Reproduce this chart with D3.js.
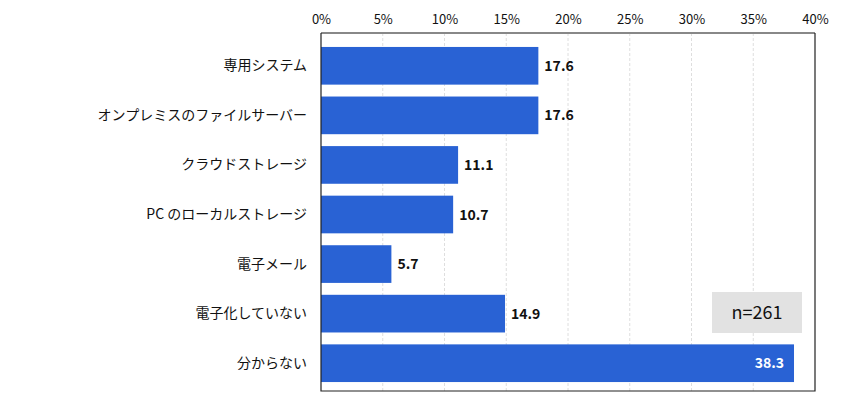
<!DOCTYPE html>
<html>
<head>
<meta charset="utf-8">
<script src="https://cdn.jsdelivr.net/npm/d3@7"></script>
<style>
  body { margin: 0; background: #fff; }
  svg { display: block; font-family: "Noto Sans CJK JP", "Noto Sans", sans-serif; }
</style>
</head>
<body>
<svg width="843" height="407"></svg>
<script>
const categories = ['専用システム', 'オンプレミスのファイルサーバー', 'クラウドストレージ',
    'PC のローカルストレージ', '電子メール', '電子化していない', '分からない'];
const values = [17.6, 17.6, 11.1, 10.7, 5.7, 14.9, 38.3];
const xTicks = [0, 5, 10, 15, 20, 25, 30, 35, 40];
const sampleNote = 'n=261';

const svg = d3.select('svg');
const plot = { left: 321, right: 815, top: 33, bottom: 391 };

// ---- escalas
const mapX = d3.scaleLinear().domain([0, 40]).range([plot.left, plot.right]);
const mapY = d3.scaleBand().domain(categories).range([42, 387]).paddingInner(0.24).paddingOuter(0.1);

// ---- grade vertical
svg.append('g').selectAll('line')
    .data(xTicks.slice(1, -1))
    .join('line')
    .attr('x1', d => mapX(d)).attr('x2', d => mapX(d))
    .attr('y1', plot.top).attr('y2', plot.bottom)
    .style('stroke', '#dedede')
    .style('stroke-dasharray', '3,2')
    .style('stroke-width', 1);

// ---- eixo superior
const xAxis = d3.axisTop(mapX).tickValues(xTicks).tickFormat(d => d + '%').tickSize(0).tickPadding(9);
const gx = svg.append('g')
    .attr('transform', `translate(0, ${plot.top})`)
    .call(xAxis);
gx.select('.domain').remove();
gx.selectAll('text')
    .style('font-size', '13px')
    .style('fill', '#111')
    .style('font-family', '"Noto Sans CJK JP", "Noto Sans", sans-serif');

// ---- barras
svg.append('g').selectAll('rect')
    .data(values)
    .join('rect')
    .attr('x', mapX(0))
    .attr('y', (d, i) => mapY(categories[i]))
    .attr('width', d => mapX(d) - mapX(0))
    .attr('height', mapY.bandwidth())
    .style('fill', '#2962d4');

// ---- rótulos de valor
svg.append('g').selectAll('text')
    .data(values)
    .join('text')
    .attr('x', d => d > 30 ? mapX(d) - 10 : mapX(d) + 6)
    .attr('y', (d, i) => mapY(categories[i]) + mapY.bandwidth() / 2 + 5)
    .attr('text-anchor', d => d > 30 ? 'end' : 'start')
    .style('font-size', '14px')
    .style('font-weight', 'bold')
    .style('fill', d => d > 30 ? '#fff' : '#111')
    .text(d => d.toFixed(1));

// ---- rótulos de categoria
const yAxis = d3.axisLeft(mapY).tickSize(0).tickPadding(14);
const gy = svg.append('g')
    .attr('transform', `translate(${plot.left}, 0)`)
    .call(yAxis);
gy.select('.domain').remove();
gy.selectAll('text')
    .style('font-size', '14px')
    .style('fill', '#111')
    .style('font-family', '"Noto Sans CJK JP", "Noto Sans", sans-serif');

// ---- moldura
svg.append('line')
    .attr('x1', plot.left).attr('x2', plot.right)
    .attr('y1', plot.top).attr('y2', plot.top)
    .style('stroke', '#888').style('stroke-width', 2);
svg.append('path')
    .attr('d', `M${plot.left},${plot.top} V${plot.bottom} H${plot.right} V${plot.top}`)
    .style('fill', 'none').style('stroke', '#222').style('stroke-width', 1.2);

// ---- caixa n
const note = svg.append('g');
note.append('rect')
    .attr('x', 712).attr('y', 292).attr('width', 90).attr('height', 41)
    .style('fill', '#e2e2e2');
note.append('text')
    .attr('x', 757).attr('y', 319)
    .attr('text-anchor', 'middle')
    .style('font-size', '18px')
    .style('fill', '#111')
    .text(sampleNote);
</script>
</body>
</html>
